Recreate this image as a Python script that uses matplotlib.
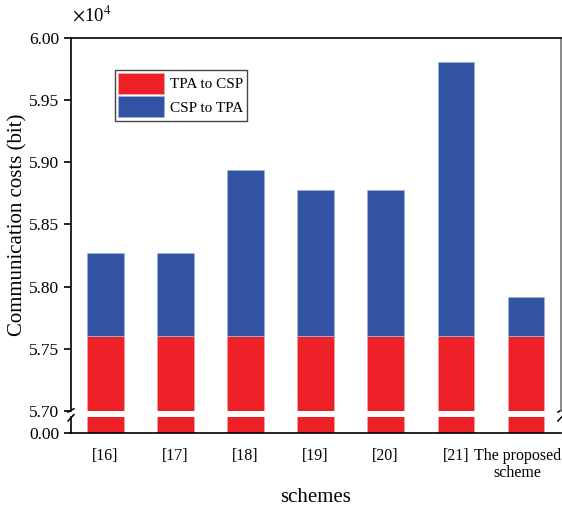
import matplotlib.pyplot as plt
import matplotlib.transforms as mtransforms
from matplotlib.ticker import FuncFormatter

plt.rcParams['font.family'] = ['Liberation Serif', 'DejaVu Serif']
plt.rcParams['mathtext.fontset'] = 'stix'

# Communication costs (bits) per scheme
schemes = ["[16]", "[17]", "[18]", "[19]", "[20]", "[21]", "The proposed\nscheme"]
tpa_to_csp = [57600, 57600, 57600, 57600, 57600, 57600, 57600]
csp_to_tpa = [670, 670, 1340, 1180, 1180, 2210, 320]

red = "#ee2027"
blue = "#3253a4"
x = list(range(len(schemes)))
w = 0.52

fig = plt.figure(figsize=(5.62, 5.12), dpi=100)
ax = fig.add_axes([0.1263, 0.1973, 0.8717, 0.7285])
ax_lo = fig.add_axes([0.1263, 0.1543, 0.8717, 0.0312])

# upper part of the broken axis
ax.bar(x, tpa_to_csp, w, color=red, edgecolor="#f6a0a0", linewidth=0.6, label="TPA to CSP")
ax.bar(x, csp_to_tpa, w, bottom=tpa_to_csp, color=blue, edgecolor="#9db3d8",
       linewidth=0.6, label="CSP to TPA")
ax.set_ylim(57000, 60000)
ax.set_xlim(-0.49, 6.5)
ax.set_yticks([57000, 57500, 58000, 58500, 59000, 59500, 60000])
ax.yaxis.set_major_formatter(FuncFormatter(lambda v, p: f"{v/1e4:.2f}"))
ax.set_xticks([])
ax.spines["bottom"].set_visible(False)
ax.spines["top"].set_linewidth(1.2)
ax.spines["left"].set_linewidth(1.2)
ax.spines["right"].set_color("#777777")
ax.spines["right"].set_linewidth(1.2)
ax.tick_params(axis="y", direction="out", length=5, width=1.2, labelsize=12.5)

# lower part (zero)
ax_lo.bar(x, tpa_to_csp, w, color=red, edgecolor="#f6a0a0", linewidth=0.6)
ax_lo.set_ylim(0, 500)
ax_lo.set_xlim(-0.49, 6.5)
ax_lo.set_yticks([0])
ax_lo.set_yticklabels(["0.00"])
ax_lo.set_xticks(x)
ax_lo.set_xticklabels(schemes, fontsize=11.5, linespacing=1.05)
ax_lo.spines["top"].set_visible(False)
ax_lo.spines["right"].set_visible(False)
ax_lo.spines["left"].set_linewidth(1.2)
ax_lo.spines["bottom"].set_linewidth(1.2)
ax_lo.tick_params(axis="y", direction="out", length=5, width=1.2, labelsize=12.5)
ax_lo.tick_params(axis="x", length=0, pad=11)

# keep the long last label inside the figure
last = ax_lo.get_xticklabels()[-1]
last.set_transform(last.get_transform() +
                   mtransforms.ScaledTranslation(-6 / 72, 0, fig.dpi_scale_trans))

# break marks on both sides
kw = dict(color="k", lw=1.1, clip_on=False)
for xx in (0, 1):
    ax.plot([xx - 0.006, xx + 0.006], [-0.003, 0.006], transform=ax.transAxes, **kw)
    ax_lo.plot([xx - 0.006, xx + 0.006], [0.75, 1.15], transform=ax_lo.transAxes, **kw)

ax.legend(loc="upper left", bbox_to_anchor=(0.075, 0.935), fontsize=11,
          handlelength=3.0, handleheight=1.75, labelspacing=0.15,
          handletextpad=0.4, borderpad=0.2, fancybox=False,
          edgecolor="#444444", framealpha=1)

fig.text(0.128, 0.95, r"$\times$10$^4$", fontsize=13.5, va="bottom", ha="left")
fig.text(0.032, 0.56, "Communication costs (bit)", rotation=90, fontsize=15,
         va="center", ha="center")
fig.text(0.562, 0.028, "schemes", fontsize=15, ha="center", va="center")

fig.savefig("out.png", dpi=100)
